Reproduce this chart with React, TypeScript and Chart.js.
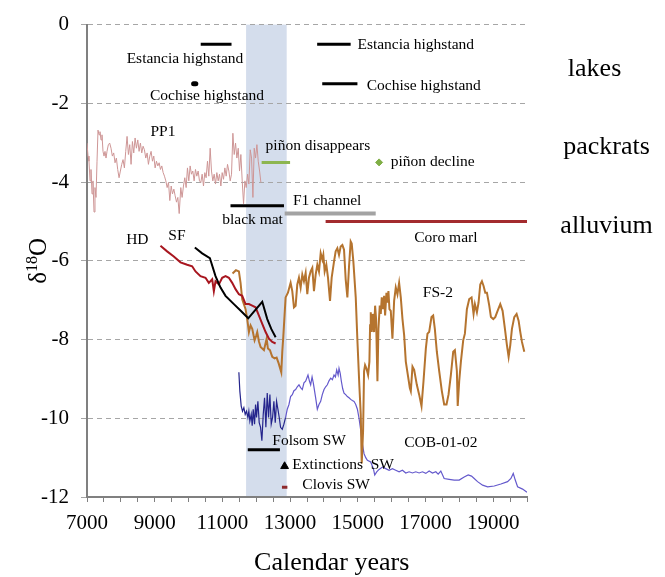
import React, { useEffect, useRef } from 'react';
import { Chart, registerables } from 'chart.js';

Chart.register(...registerables);

// ---------- axes ----------
const X_MIN = 7000;
const X_MAX = 20000;
const Y_MIN = -12;
const Y_MAX = 0;
const X_LABELED_TICKS = [7000, 9000, 11000, 13000, 15000, 17000, 19000];
const BAND_YEARS = [11700, 12900];

// ---------- PP1 (packrat) ----------
const PP1_YEARS = [
  7000, 7030, 7059, 7089, 7118, 7148, 7177, 7207, 7236, 7266,
  7296, 7325, 7355, 7384, 7414, 7443, 7473, 7503, 7532, 7562,
  7591, 7631, 7670, 7710, 7749, 7789, 7828, 7868, 7907, 7947,
  7986, 8026, 8065, 8105, 8144, 8184, 8223, 8263, 8302, 8342,
  8381, 8421, 8460, 8500, 8539, 8578, 8618, 8657, 8697, 8736,
  8776, 8815, 8855, 8894, 8934, 8973, 9013, 9052, 9092, 9131,
  9171, 9210, 9250, 9289, 9329, 9368, 9408, 9447, 9487, 9526,
  9566, 9605, 9645, 9684, 9724, 9771, 9810, 9850, 9889, 9929,
  9968, 10008, 10047, 10086, 10126, 10165, 10205, 10244, 10284, 10323,
  10363, 10402, 10442, 10481, 10520, 10560, 10599, 10639, 10678, 10718,
  10757, 10797, 10836, 10876, 10915, 10955, 10994, 11033, 11073, 11112,
  11152, 11191, 11231, 11270, 11310, 11349, 11389, 11428, 11468, 11507,
  11546, 11586, 11625, 11665, 11704, 11744, 11783, 11823, 11862, 11902,
  11941, 11980, 12020, 12059, 12099, 12138,
];
const PP1_VALUES = [
  -3.01, -3.34, -3.47, -3.97, -3.68, -4.30, -3.97, -4.76, -4.14, -4.39,
  -3.47, -2.68, -2.80, -2.72, -2.93, -2.80, -3.22, -3.34, -3.22, -3.39,
  -3.22, -3.05, -3.01, -3.14, -3.34, -3.26, -3.51, -3.39, -3.68, -3.89,
  -3.72, -3.55, -3.43, -3.64, -3.22, -2.84, -3.30, -3.05, -3.55, -2.97,
  -3.26, -2.88, -3.14, -2.93, -3.22, -3.01, -3.26, -3.09, -3.18, -3.39,
  -3.26, -3.55, -3.34, -3.22, -3.47, -3.34, -3.64, -3.47, -3.59, -3.51,
  -3.68, -3.59, -3.76, -3.85, -3.97, -4.14, -4.01, -4.47, -4.10, -4.30,
  -4.18, -4.35, -4.51, -4.39, -4.80, -4.14, -4.39, -4.10, -3.89, -4.14,
  -3.64, -3.97, -3.59, -3.80, -3.72, -3.97, -3.68, -3.85, -3.72, -3.97,
  -4.01, -3.80, -4.10, -3.76, -3.89, -3.47, -3.85, -3.14, -3.72, -3.97,
  -3.80, -4.05, -3.76, -3.97, -3.80, -4.10, -3.76, -3.93, -3.64, -3.85,
  -3.55, -3.72, -3.97, -3.80, -2.76, -3.30, -3.01, -3.39, -3.14, -3.72,
  -3.30, -3.97, -4.55, -3.97, -4.14, -3.80, -4.05, -3.18, -3.39, -4.39,
  -3.14, -3.39, -3.05, -3.47, -3.72, -4.01,
];

// ---------- HD ----------
const HD_YEARS = [
  9170, 9367, 9564, 9762, 9959, 10107, 10206, 10353, 10501, 10600,
  10699, 10748, 10797, 10896, 10994, 11093, 11192, 11290, 11389, 11488,
  11586, 11685, 11784, 11882, 11981, 12080, 12178, 12277, 12376, 12474,
  12573,
];
const HD_VALUES = [
  -5.62, -5.76, -5.89, -6.04, -6.10, -6.14, -6.27, -6.39, -6.43, -6.56,
  -6.47, -6.77, -6.52, -6.60, -6.43, -6.39, -6.43, -6.56, -6.72, -6.85,
  -6.89, -7.10, -7.10, -7.14, -7.18, -7.39, -7.60, -7.81, -7.98, -8.06,
  -8.10,
];

// ---------- SF ----------
const SF_YEARS = [10186, 10403, 10630, 10797, 10945, 11093, 11340, 11557, 11764, 11951, 12178, 12326, 12444, 12573];
const SF_VALUES = [-5.66, -5.81, -5.93, -6.39, -6.68, -6.89, -7.10, -7.28, -7.46, -7.27, -7.04, -7.48, -7.73, -7.94];

// ---------- FS-2 ----------
const FS2_YEARS = [
  11300, 11400, 11488, 11537, 11586, 11635, 11685, 11734, 11784, 11833,
  11882, 11951, 12000, 12030, 12080, 12129, 12228, 12307, 12346, 12405,
  12474, 12543, 12602, 12661, 12740, 12770, 12799, 12868, 12937, 13016,
  13065, 13115, 13164, 13213, 13262, 13312, 13361, 13410, 13460, 13509,
  13558, 13608, 13657, 13706, 13756, 13805, 13854, 13904, 13953, 13982,
  14022, 14071, 14120, 14180, 14229, 14298, 14347, 14397, 14446, 14495,
  14545, 14594, 14643, 14693, 14742, 14791, 14821, 14870, 14940, 14989,
  15048, 15088, 15117, 15157, 15186, 15216, 15255, 15305, 15344, 15364,
  15384, 15413, 15443, 15482, 15512, 15541, 15581, 15610, 15650, 15679,
  15709, 15748, 15778, 15808, 15847, 15877, 15906, 15936, 15975, 16024,
  16074, 16123, 16172, 16222, 16271, 16321, 16370, 16419, 16488, 16538,
  16567, 16617, 16666, 16745, 16814, 16883, 16942, 17011, 17060, 17109,
  17178, 17228, 17277, 17336, 17406, 17484, 17553, 17622, 17681, 17751,
  17820, 17869, 17928, 17953, 17997, 18047, 18115, 18165, 18224, 18293,
  18362, 18421, 18461, 18520, 18569, 18619, 18668, 18717, 18767, 18816,
  18885, 18934, 19003, 19062, 19131, 19210, 19279, 19348, 19407, 19457,
  19506, 19555, 19624, 19693, 19752, 19802, 19851, 19920,
];
const FS2_VALUES = [
  -6.32, -6.24, -6.27, -6.56, -6.98, -7.10, -7.23, -7.48, -7.81, -7.64,
  -7.73, -8.02, -7.90, -7.81, -8.05, -8.19, -8.27, -7.98, -8.23, -8.27,
  -8.44, -8.48, -8.46, -8.60, -8.83, -8.30, -7.94, -6.93, -6.81, -6.56,
  -6.77, -7.18, -7.14, -6.60, -6.43, -6.68, -6.35, -6.52, -6.31, -6.85,
  -6.43, -6.27, -6.18, -6.77, -6.35, -6.10, -6.27, -5.81, -5.97, -5.85,
  -6.27, -6.10, -6.43, -7.02, -6.43, -6.02, -5.76, -5.68, -5.85, -5.64,
  -5.60, -5.72, -6.47, -6.93, -6.14, -5.51, -5.56, -6.02, -6.93, -8.02,
  -9.19, -9.90, -11.15, -10.32, -8.81, -8.65, -8.73, -8.90, -8.56, -7.64,
  -7.31, -7.81, -7.35, -7.81, -7.14, -7.48, -9.06, -7.73, -7.14, -7.35,
  -6.93, -7.23, -6.89, -7.39, -6.81, -7.06, -6.77, -7.23, -7.27, -7.98,
  -7.02, -6.68, -6.85, -6.56, -6.93, -7.48, -7.89, -8.56, -8.95, -9.23,
  -9.31, -8.69, -8.77, -9.15, -9.40, -9.69, -9.06, -8.23, -7.85, -7.81,
  -7.43, -7.39, -7.73, -8.31, -8.80, -9.31, -9.65, -9.65, -9.40, -8.90,
  -8.31, -8.27, -8.80, -9.69, -9.06, -8.56, -8.02, -7.85, -7.23, -6.97,
  -6.93, -7.35, -7.10, -7.31, -7.06, -6.60, -6.52, -6.64, -6.81, -6.81,
  -7.14, -7.43, -7.48, -7.43, -7.27, -7.10, -7.27, -7.73, -8.14, -8.44,
  -8.14, -7.73, -7.43, -7.35, -7.52, -7.81, -8.06, -8.31,
];

// ---------- COB-01-02 ----------
const COB_YEARS = [
  11487, 11516, 11556, 11595, 11635, 11674, 11713, 11753, 11782, 11812,
  11852, 11881, 11911, 11950, 11980, 12009, 12049, 12088, 12128, 12167,
  12207, 12246, 12285, 12325, 12364, 12404, 12443, 12483, 12522, 12562,
  12601, 12640, 12680, 12719, 12769, 12818,
  12867, 12917, 12967, 13015, 13066, 13114, 13164, 13213, 13263, 13311,
  13361, 13410, 13460, 13529, 13570, 13608, 13650, 13687, 13756, 13805,
  13854, 13904, 13952, 14003, 14051, 14101, 14150, 14200, 14250, 14298,
  14340, 14377, 14420, 14446, 14480, 14515, 14555, 14594, 14643, 14692,
  14742, 14791, 14840, 14890, 14940, 14989, 15037, 15087, 15136, 15185,
  15235, 15284, 15382, 15461, 15501,
  15560, 15629, 15728, 15826, 15925, 16024, 16122, 16221, 16320, 16418,
  16517, 16616, 16714, 16813, 16911, 17010, 17109, 17207, 17306, 17375,
  17454, 17552, 17700, 17848, 17996, 18144, 18262, 18361, 18440, 18539,
  18688, 18836, 19032, 19229, 19426, 19525, 19594, 19653, 19722, 19870,
  20000,
];
const COB_VALUES = [
  -8.83, -9.31, -9.69, -9.82, -9.73, -9.90, -9.82, -9.98, -9.82, -10.07,
  -9.90, -10.19, -9.77, -10.15, -9.65, -9.98, -9.57, -10.11, -10.23, -10.57,
  -9.90, -9.48, -10.23, -9.36, -9.98, -9.40, -10.15, -9.98, -9.57, -10.11,
  -9.57, -9.77, -9.98, -10.23, -10.28, -10.15,
  -9.98, -9.77, -9.65, -9.45, -9.40, -9.30, -9.27, -9.20, -9.15, -9.22,
  -9.27, -9.10, -9.06, -8.90, -9.05, -9.15, -8.95, -9.11, -9.48, -9.77,
  -9.65, -9.57, -9.40, -9.27, -9.20, -9.15, -9.05, -8.98, -9.02, -8.90,
  -8.95, -8.77, -8.90, -8.73, -8.85, -9.06, -9.25, -9.36, -9.40, -9.45,
  -9.48, -9.52, -9.55, -9.57, -9.65, -9.77, -10.0, -10.3, -10.65, -10.9,
  -11.0, -11.07, -11.11, -11.28, -11.44,
  -11.36, -11.30, -11.24, -11.28, -11.32, -11.28, -11.32, -11.36, -11.32, -11.39,
  -11.36, -11.39, -11.36, -11.39, -11.36, -11.40, -11.34, -11.39, -11.36, -11.42,
  -11.34, -11.53, -11.55, -11.57, -11.57, -11.49, -11.44, -11.47, -11.53, -11.61,
  -11.70, -11.74, -11.72, -11.67, -11.61, -11.53, -11.40, -11.57, -11.74, -11.80,
  -11.88,
];

// ---------- event bars (from year, to year, level) ----------
const EVENT_BARS = [
  { name: 'Estancia highstand (early)', from: 10360, to: 11270, level: -0.5 },
  { name: 'Estancia highstand (late)', from: 13800, to: 14790, level: -0.5 },
  { name: 'Cochise highstand (early)', from: 10150, to: 10215, level: -1.5 },
  { name: 'Cochise highstand (late)', from: 13950, to: 14990, level: -1.5 },
  { name: 'piñon disappears', from: 12160, to: 13000, level: -3.5 },
  { name: 'black mat', from: 11240, to: 12820, level: -4.6 },
  { name: 'F1 channel', from: 12840, to: 15530, level: -4.8 },
  { name: 'Coro marl', from: 14050, to: 20000, level: -5.0 },
  { name: 'Folsom SW', from: 11750, to: 12700, level: -10.8 },
  { name: 'Clovis SW', from: 12760, to: 12920, level: -11.75 },
];
const PINON_DECLINE_POINT = [15630, -3.5];
const EXTINCTIONS_POINT = [12838, -11.22];

// ---------- text labels placed in data units ----------
const PLOT_LABELS = [
  { text: 'Estancia highstand', x: 9894, y: -0.87, align: 'center' },
  { text: 'Estancia highstand', x: 14990, y: -0.52, align: 'left' },
  { text: 'Cochise highstand', x: 10545, y: -1.81, align: 'center' },
  { text: 'Cochise highstand', x: 15265, y: -1.55, align: 'left' },
  { text: 'PP1', x: 9243, y: -2.72, align: 'center' },
  { text: 'piñon disappears', x: 12277, y: -3.09, align: 'left' },
  { text: 'piñon decline', x: 15975, y: -3.5, align: 'left' },
  { text: 'black mat', x: 11891, y: -4.95, align: 'center' },
  { text: 'F1 channel', x: 13084, y: -4.48, align: 'left' },
  { text: 'Coro marl', x: 17602, y: -5.43, align: 'center' },
  { text: 'HD', x: 8488, y: -5.46, align: 'center' },
  { text: 'SF', x: 9657, y: -5.37, align: 'center' },
  { text: 'FS-2', x: 17366, y: -6.81, align: 'center' },
  { text: 'COB-01-02', x: 17454, y: -10.63, align: 'center' },
  { text: 'Folsom SW', x: 12474, y: -10.57, align: 'left' },
  { text: 'Extinctions  SW', x: 13066, y: -11.19, align: 'left' },
  { text: 'Clovis SW', x: 13362, y: -11.69, align: 'left' },
];
const SIDE_LABELS = [
  { text: 'lakes', x: 21996, y: -1.12 },
  { text: 'packrats', x: 22351, y: -3.12 },
  { text: 'alluvium', x: 22351, y: -5.13 },
];
const X_TITLE = 'Calendar years';
const X_TITLE_CENTER_YEAR = 14229;

// ---------- styles ----------
const FONT = "'Liberation Serif', 'Times New Roman', serif";
const BAR_STYLES: Record<string, { color: string; width: number; cap?: string }> = {
  'Estancia highstand (early)': { color: '#000000', width: 3 },
  'Estancia highstand (late)': { color: '#000000', width: 3 },
  'Cochise highstand (early)': { color: '#000000', width: 5, cap: 'round' },
  'Cochise highstand (late)': { color: '#000000', width: 3 },
  'piñon disappears': { color: '#8db650', width: 3 },
  'black mat': { color: '#000000', width: 3 },
  'F1 channel': { color: '#a3a3a3', width: 4 },
  'Coro marl': { color: '#a32b2e', width: 3 },
  'Folsom SW': { color: '#000000', width: 3 },
  'Clovis SW': { color: '#8e2a2c', width: 3 },
};

const toPoints = (xs: number[], ys: number[]) => xs.map((x, i) => ({ x, y: ys[i] }));

export default function App() {
  const canvasRef = useRef<HTMLCanvasElement | null>(null);

  useEffect(() => {
    document.body.style.margin = '0';
    const canvas = canvasRef.current;
    if (!canvas) return;

    const lineDs = (label: string, xs: number[], ys: number[], color: string, width: number, extra: any = {}) => ({
      type: 'line',
      label,
      data: toPoints(xs, ys),
      borderColor: color,
      borderWidth: width,
      pointRadius: 0,
      fill: false,
      tension: 0,
      ...extra,
    });

    const barDatasets = EVENT_BARS.map((b) => {
      const st = BAR_STYLES[b.name];
      return {
        type: 'line',
        label: b.name,
        data: [
          { x: b.from, y: b.level },
          { x: b.to, y: b.level },
        ],
        borderColor: st.color,
        borderWidth: st.width,
        borderCapStyle: st.cap || 'butt',
        pointRadius: 0,
        fill: false,
      };
    });

    const bandPlugin = {
      id: 'bandPlugin',
      beforeDraw(chart: any) {
        const { ctx, chartArea, scales } = chart;
        const x0 = scales.x.getPixelForValue(BAND_YEARS[0]);
        const x1 = scales.x.getPixelForValue(BAND_YEARS[1]);
        ctx.save();
        ctx.fillStyle = 'rgb(212,221,236)';
        ctx.fillRect(x0, chartArea.top, x1 - x0, chartArea.bottom - chartArea.top);
        ctx.restore();
      },
    };

    const textPlugin = {
      id: 'textPlugin',
      afterDraw(chart: any) {
        const { ctx, chartArea, scales } = chart;
        const xs = scales.x;
        const ys = scales.y;
        ctx.save();
        ctx.fillStyle = '#000';
        ctx.textBaseline = 'middle';
        ctx.font = `15.5px ${FONT}`;
        PLOT_LABELS.forEach((l) => {
          ctx.textAlign = l.align;
          ctx.fillText(l.text, xs.getPixelForValue(l.x), ys.getPixelForValue(l.y));
        });
        ctx.font = `26px ${FONT}`;
        ctx.textAlign = 'center';
        SIDE_LABELS.forEach((l) => {
          ctx.fillText(l.text, xs.getPixelForValue(l.x), ys.getPixelForValue(l.y));
        });
        // x title
        ctx.font = `26px ${FONT}`;
        ctx.fillText(X_TITLE, xs.getPixelForValue(X_TITLE_CENTER_YEAR), xs.bottom - 14);
        // y title δ18O rotated
        const cy = (chartArea.top + chartArea.bottom) / 2;
        ctx.translate(46, cy);
        ctx.rotate(-Math.PI / 2);
        ctx.textAlign = 'left';
        ctx.textBaseline = 'alphabetic';
        const big = `25px ${FONT}`;
        const small = `16px ${FONT}`;
        ctx.font = big;
        const w1 = ctx.measureText('δ').width;
        const w3 = ctx.measureText('O').width;
        ctx.font = small;
        const w2 = ctx.measureText('18').width;
        let sx = -(w1 + w2 + w3) / 2;
        ctx.font = big;
        ctx.fillText('δ', sx, 0);
        sx += w1;
        ctx.font = small;
        ctx.fillText('18', sx, -9);
        sx += w2;
        ctx.font = big;
        ctx.fillText('O', sx, 0);
        ctx.restore();
      },
    };

    const chart = new Chart(canvas, {
      type: 'line',
      data: {
        datasets: [
          ...barDatasets,
          {
            type: 'line',
            label: 'piñon decline',
            data: [{ x: PINON_DECLINE_POINT[0], y: PINON_DECLINE_POINT[1] }],
            showLine: false,
            pointStyle: 'rectRot',
            pointRadius: 3.5,
            pointBackgroundColor: '#7fae45',
            pointBorderColor: '#7fae45',
          },
          {
            type: 'line',
            label: 'Extinctions SW',
            data: [{ x: EXTINCTIONS_POINT[0], y: EXTINCTIONS_POINT[1] }],
            showLine: false,
            pointStyle: 'triangle',
            pointRadius: 4.5,
            pointBackgroundColor: '#000',
            pointBorderColor: '#000',
          },
          lineDs('SF', SF_YEARS, SF_VALUES, '#000000', 2),
          lineDs('HD', HD_YEARS, HD_VALUES, '#a8161f', 2),
          lineDs('FS-2', FS2_YEARS, FS2_VALUES, '#b5742f', 2),
          lineDs('COB-01-02', COB_YEARS, COB_VALUES, '#6459cc', 1.2, {
            segment: {
              borderColor: (c: any) => (c.p1.parsed.x <= BAND_YEARS[1] ? '#24248c' : '#6459cc'),
            },
          }),
          lineDs('PP1', PP1_YEARS, PP1_VALUES, 'rgb(206,150,150)', 1),
        ] as any,
      },
      options: {
        animation: false,
        responsive: true,
        maintainAspectRatio: false,
        devicePixelRatio: 1,
        layout: { padding: { top: 18, right: 138, left: 0, bottom: 0 } },
        plugins: {
          legend: { display: false },
          tooltip: { enabled: false },
        },
        scales: {
          x: {
            type: 'linear',
            min: X_MIN,
            max: X_MAX,
            afterFit: (s: any) => {
              s.height = 80;
            },
            ticks: {
              stepSize: 500,
              autoSkip: false,
              maxRotation: 0,
              minRotation: 0,
              padding: 9,
              color: '#000',
              font: { family: FONT, size: 21 },
              callback: (v: any) => (X_LABELED_TICKS.includes(Number(v)) ? String(v) : ''),
            },
            grid: { drawOnChartArea: false, drawTicks: true, tickLength: 5, color: '#808080', lineWidth: 1 },
            border: { color: '#808080', width: 2 },
          },
          y: {
            type: 'linear',
            min: Y_MIN,
            max: Y_MAX,
            afterFit: (s: any) => {
              s.width = 87;
            },
            ticks: {
              stepSize: 2,
              padding: 12,
              color: '#000',
              font: { family: FONT, size: 21 },
            },
            grid: { color: '#a6a6a6', lineWidth: 1, tickLength: 6 },
            border: { color: '#808080', width: 2, dash: [5, 4] },
          },
        },
      } as any,
      plugins: [bandPlugin, textPlugin],
    } as any);

    return () => chart.destroy();
  }, []);

  return (
    <div style={{ position: 'relative', width: 665, height: 577 }}>
      <canvas ref={canvasRef} />
    </div>
  );
}
